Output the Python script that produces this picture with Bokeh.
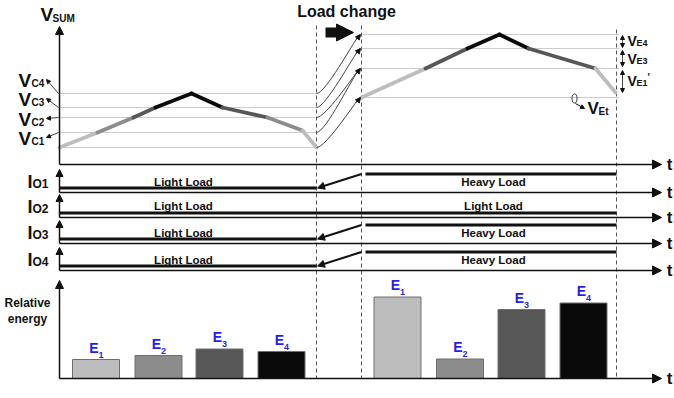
from bokeh.plotting import figure
from bokeh.models import Range1d, Arrow, NormalHead, ColumnDataSource
from bokeh.embed import file_html
from bokeh.resources import INLINE
from bokeh.core.properties import value

# ---------------- data ----------------
# time markers of the load step
t_start = 59
t_change = 316
t_settled = 361
t_end = 616
t_axis_end = 661

# V_SUM waveform before the step (time, voltage above the t axis)
t_left = [59, 97, 133, 155, 191, 222, 267, 302, 316]
v_left = [17, 32, 47, 57, 71, 57, 47, 34, 17]
cell_left = [1, 2, 3, 4, 4, 3, 2, 1]          # converter cell active in each segment

# V_SUM waveform after the step
t_right = [361, 425, 467, 499, 528, 595, 615]
v_right = [67, 96, 116, 130, 116, 96, 72]
cell_right = [1, 3, 4, 4, 3, 1]

vc_levels = [17, 32, 47, 57, 71]
vc_names = ["C1", "C2", "C3", "C4"]
ve_levels = [67, 96, 116, 130]
trans_from = [71, 57, 47, 32, 17]
trans_to = [130, 116, 96, 96, 67]

# output currents
io_names = ["O1", "O2", "O3", "O4"]
load_before = ["Light Load", "Light Load", "Light Load", "Light Load"]
load_after = ["Heavy Load", "Light Load", "Heavy Load", "Heavy Load"]
load_level = {"Light Load": 4.5, "Heavy Load": 18.5}

# relative energy per cell
e_names = ["1", "2", "3", "4"]
bar_t_left = [95.5, 158, 219, 281]
e_left = [19, 23, 29.5, 27]
bar_t_right = [397, 459.5, 521, 583]
e_right = [81.5, 19.5, 69, 75.5]

# ---------------- styles / layout ----------------
W, H = 674, 398
FONT = value("Liberation Sans")
cell_color = {1: "#bdbdbd", 2: "#8c8c8c", 3: "#575757", 4: "#0a0a0a"}
INK = "#111111"
BLUE = "#1f1ff0"

v_base = 164          # pixel row of the V_SUM time axis
e_base = 378          # pixel row of the energy time axis
io_base = [192, 217, 243, 270]

p = figure(width=W, height=H, x_range=Range1d(0, W), y_range=Range1d(H, 0),
           output_backend="svg", toolbar_location=None,
           x_axis_location=None, y_axis_location=None, min_border=0,
           outline_line_color=None, background_fill_color="white",
           border_fill_color="white")
p.grid.visible = False

p.extra_y_ranges = {"v": Range1d(v_base - H, v_base), "e": Range1d(e_base - H, e_base)}
for k, b in enumerate(io_base):
    p.extra_y_ranges["i%d" % k] = Range1d(b - H, b)


def txt(x, y, s, size, align="left", color=INK, rng="default", baseline="middle"):
    p.text(x=[x], y=[y], text=[s], text_font=FONT, text_font_style="bold",
           text_font_size=size, text_align=align, text_baseline=baseline,
           text_color=color, y_range_name=rng)


def arrow(x0, y0, x1, y1, size=8, lw=1.5, color=INK, rng="default"):
    head = NormalHead(size=size, fill_color=color, line_color=color, line_width=1)
    a = Arrow(x_start=x0, y_start=y0, x_end=x1, y_end=y1, end=head,
              line_color=color, line_width=lw, y_range_name=rng)
    p.add_layout(a)


# dashed time markers
for t, top in [(t_change, 25), (t_settled, 25), (t_end, 29)]:
    p.segment(x0=[t], y0=[top], x1=[t], y1=[e_base], line_color="#555555",
              line_width=1, line_dash="4 3")

# ---------------- V_SUM panel ----------------
p.segment(x0=[t_start] * len(vc_levels), y0=vc_levels, x1=[t_change] * len(vc_levels),
          y1=vc_levels, line_color="#9a9a9a", line_width=1, line_dash="1 1",
          y_range_name="v")
p.segment(x0=[t_settled] * len(ve_levels), y0=ve_levels, x1=[t_end + 3] * len(ve_levels),
          y1=ve_levels, line_color="#9a9a9a", line_width=1, line_dash="1 1",
          y_range_name="v")

for tt, vv, cc in [(t_left, v_left, cell_left), (t_right, v_right, cell_right)]:
    src = ColumnDataSource(dict(x0=tt[:-1], y0=vv[:-1], x1=tt[1:], y1=vv[1:],
                                c=[cell_color[c] for c in cc]))
    p.segment(x0="x0", y0="y0", x1="x1", y1="y1", line_color="c", line_width=3.8,
              line_cap="round", source=src, y_range_name="v")

# transition curves
n = len(trans_from)
p.bezier(x0=[t_change] * n, y0=trans_from, x1=[t_settled - 2] * n, y1=trans_to,
         cx0=[t_change + 9] * n, cy0=trans_from,
         cx1=[t_settled - 9] * n, cy1=[v - 9 for v in trans_to],
         line_color="#444444", line_width=1, y_range_name="v")
for v in sorted(set(trans_to)):
    arrow(t_settled - 5, v - 5, t_settled - 1, v, size=5, lw=1, rng="v")

# axes
arrow(t_start, v_base, t_start, 26, size=8)
arrow(t_start, v_base, t_axis_end, v_base, size=9)

txt(40, 14, "V", "19px")
txt(52, 18, "SUM", "10px")

label_y = [138, 119, 99, 80]
for name, lv, ly in zip(vc_names, vc_levels[1:], label_y):
    txt(18, ly, "V", "19px")
    txt(31, ly + 3, name, "10px")
    arrow(t_start - 1, v_base - lv, 46, ly - 1, size=4, lw=0.8)

# right brackets
ve_y = [(35, 47, "E4", 40), (50, 66, "E3", 58), (70, 92, "E1", 80)]
for y0, y1, s, ly in ve_y:
    arrow(622, (y0 + y1) / 2, 622, y0, size=4, lw=0.8)
    arrow(622, (y0 + y1) / 2, 622, y1, size=4, lw=0.8)
    txt(627, ly, "V", "14px")
    txt(636, ly + 2, s, "9px")
txt(647, 77, "'", "10px")

p.ellipse(x=[574], y=[98], width=5, height=9, fill_color=None, line_color="#333333",
          line_width=1)
arrow(575, 103, 584, 108, size=4, lw=1)
txt(587, 108, "V", "17px")
txt(598, 111, "Et", "10px")

# load change title
txt(346, 11, "Load change", "16px", align="center")
arrow(325, 32, 353, 32, size=17, lw=10)

# ---------------- output currents ----------------
for k, (name, lb, la) in enumerate(zip(io_names, load_before, load_after)):
    rng = "i%d" % k
    b = io_base[k]
    arrow(t_start, 0, t_start, 23, size=7, rng=rng)
    arrow(t_start, 0, t_axis_end, 0, size=9, rng=rng)
    yb, ya = load_level[lb], load_level[la]
    if lb == la:
        p.line([t_start, t_end], [yb, yb], line_color=INK, line_width=3, y_range_name=rng)
    else:
        p.line([t_start, t_change], [yb, yb], line_color=INK, line_width=3, y_range_name=rng)
        p.line([t_settled + 4, t_end], [ya, ya], line_color=INK, line_width=3, y_range_name=rng)
        arrow(t_settled, ya, t_change + 1, yb, size=7, lw=2, rng=rng)
    ty = 12 if lb == la else 11
    txt(183, ty, lb, "11.5px", align="center", rng=rng)
    txt(493, ty, la, "11.5px", align="center", rng=rng)
    txt(27, b - 11, "I", "18px")
    txt(32, b - 9, name, "12px")

for y in [v_base] + io_base + [e_base]:
    txt(669, y, "t", "17px", align="center")

# ---------------- relative energy ----------------
arrow(t_start, 0, t_start, 98, size=8, rng="e")
arrow(t_start, 0, t_axis_end, 0, size=9, rng="e")
txt(27, 302, "Relative", "12px", align="center")
txt(27, 318, "energy", "12px", align="center")

for bt, ev in [(bar_t_left, e_left), (bar_t_right, e_right)]:
    src = ColumnDataSource(dict(x=bt, top=ev, c=[cell_color[i + 1] for i in range(len(ev))],
                                lab_y=[e + 4 for e in ev], sub_y=[e + 2 for e in ev],
                                name=e_names, xe=[x + 2.5 for x in bt]))
    p.vbar(x="x", top="top", bottom=0, width=47, fill_color="c", line_color="#6e6e6e",
           line_width=1, source=src, y_range_name="e")
    p.text(x="xe", y="lab_y", text=value("E"), text_font=FONT, text_font_style="bold",
           text_font_size="14px", text_align="right", text_baseline="bottom",
           text_color=BLUE, source=src, y_range_name="e")
    p.text(x="xe", y="sub_y", text="name", text_font=FONT, text_font_style="bold",
           text_font_size="9px", text_align="left", text_baseline="bottom",
           text_color=BLUE, source=src, y_range_name="e")

open("out.html", "w").write(file_html(p, INLINE))
